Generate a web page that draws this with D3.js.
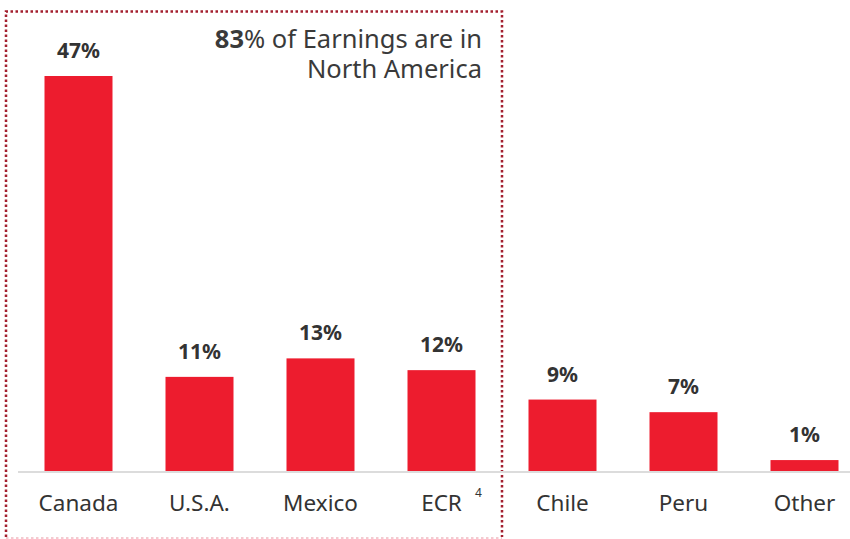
<!DOCTYPE html>
<html>
<head>
<meta charset="utf-8">
<script src="https://cdn.jsdelivr.net/npm/d3@7"></script>
<style>
	body{margin:0;background:#fff;}
	svg{display:block;font-family:'Noto Sans','Open Sans',sans-serif;}
</style>
</head>
<body>
<div id="chart"></div>
<script>
const categories = ['Canada','U.S.A.','Mexico','ECR','Chile','Peru','Other'];
const shares = [47, 11.2, 13.4, 12, 8.5, 7, 1.3];
const shareLabels = ['47%','11%','13%','12%','9%','7%','1%'];

const W = 850, H = 539;
const margin = {l:18, r:-15, t:76, b:68};
const baseY = H - margin.b; // 471

const svg = d3.select('#chart')
	.append('svg')
	.attr('width', W)
	.attr('height', H);

const x = d3.scaleBand()
	.domain(categories)
	.range([margin.l, W - margin.r])
	.paddingInner(0.438)
	.paddingOuter(0.219);

const y = d3.scaleLinear()
	.domain([0, 47])
	.range([baseY, margin.t]);

// north america box
svg.append('path')
	.attr('d', `M6,537 L6,11.5 L502,11.5 L502,537`)
	.attr('fill','none')
	.attr('stroke','#a31f2e')
	.attr('stroke-width',2.5)
	.attr('stroke-dasharray','2.5,2.5');
svg.append('line')
	.attr('x1',6).attr('x2',502)
	.attr('y1',538).attr('y2',538)
	.attr('stroke','#f1b9c1')
	.attr('stroke-width',1.5)
	.attr('stroke-dasharray','2.5,2.5');

// baseline
svg.append('line')
	.attr('x1', 18).attr('x2', W)
	.attr('y1', baseY + 1).attr('y2', baseY + 1)
	.attr('stroke','#dcdcdc')
	.attr('stroke-width',2);

const bars = svg.selectAll('.bar')
	.data(categories)
	.enter()
	.append('g')
	.attr('class','bar');

bars.append('rect')
	.attr('x', d => x(d))
	.attr('width', x.bandwidth())
	.attr('y', (d,i) => y(shares[i]))
	.attr('height', (d,i) => baseY - y(shares[i]))
	.attr('fill','#ed1c2e');

bars.append('text')
	.attr('x', d => x(d) + x.bandwidth()/2)
	.attr('y', (d,i) => y(shares[i]) - 18)
	.attr('text-anchor','middle')
	.style('font-size','21px')
	.style('font-weight','bold')
	.style('fill','#333')
	.text((d,i) => shareLabels[i]);

bars.append('text')
	.attr('x', d => x(d) + x.bandwidth()/2)
	.attr('y', baseY + 40)
	.attr('text-anchor','middle')
	.style('font-size','22.5px')
	.style('fill','#333')
	.text(d => d);

// footnote on ECR
svg.append('text')
	.attr('x', x('ECR') + x.bandwidth()/2 + 37)
	.attr('y', baseY + 26)
	.attr('text-anchor','middle')
	.style('font-size','12px')
	.style('fill','#333')
	.text('4');

// annotation
const note = svg.append('text')
	.attr('text-anchor','end')
	.style('font-size','25.5px')
	.style('fill','#3a3a3a');
const l1 = note.append('tspan').attr('x',482).attr('y',48);
l1.append('tspan').style('font-weight','bold').text('83');
l1.append('tspan').text('% of Earnings are in');
note.append('tspan').attr('x',482).attr('y',78).text('North America');
</script>
</body>
</html>
